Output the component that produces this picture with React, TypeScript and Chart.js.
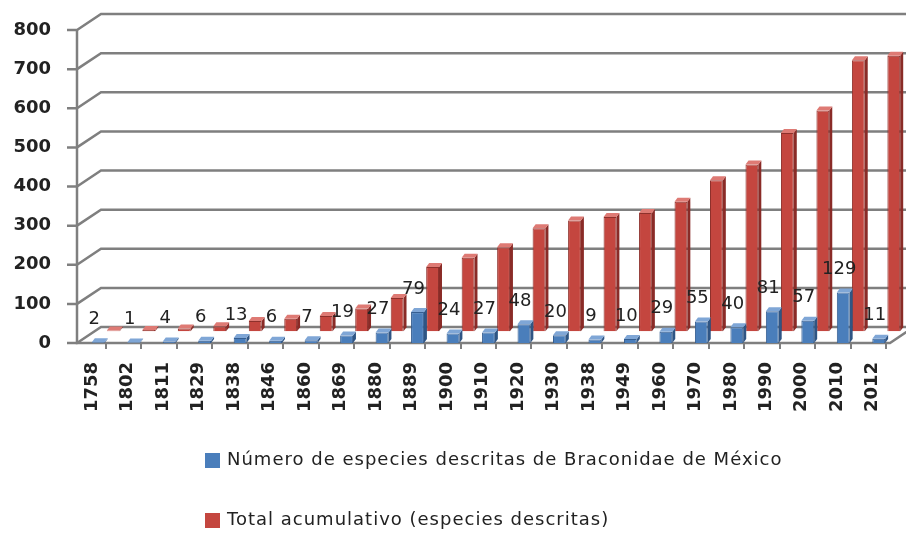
import React, { useEffect, useRef } from "react";
import { Chart, registerables } from "chart.js";

Chart.register(...registerables);

const years = ["1758", "1802", "1811", "1829", "1838", "1846", "1860", "1869", "1880", "1889", "1900", "1910", "1920", "1930", "1938", "1949", "1960", "1970", "1980", "1990", "2000", "2010", "2012"];
const described = [2, 1, 4, 6, 13, 6, 7, 19, 27, 79, 24, 27, 48, 20, 9, 10, 29, 55, 40, 81, 57, 129, 11];
const cumulative = [2, 3, 7, 13, 26, 32, 39, 58, 85, 164, 188, 215, 263, 283, 292, 302, 331, 386, 426, 507, 564, 693, 704];
const yTickValues = [0, 100, 200, 300, 400, 500, 600, 700, 800];
const seriesNames = [
  "Número de especies descritas de Braconidae de México",
  "Total acumulativo (especies descritas)",
];
const seriesColors = ["#4A7EBB", "#C4463F"];
const seriesBorders = ["#355E91", "#8E302B"];
const seriesTops = ["#7FA6D6", "#DE7A74"];
const seriesSides = ["#2F5584", "#8A2B27"];

const DEPTH_X = 24;
const DEPTH_Y = 16;
const FRONT_INSET = 11;
const CAP_X = 3;
const CAP_Y = 4;
const GRID_COLOR = "#7f7f7f";

const wallPlugin = {
  id: "wall3d",
  beforeDatasetsDraw(chart: any) {
    const { ctx, chartArea, scales } = chart;
    const y = scales.y;
    const frontX = chartArea.left - FRONT_INSET;
    ctx.save();
    ctx.strokeStyle = GRID_COLOR;
    ctx.lineWidth = 2.5;
    yTickValues.forEach((v) => {
      const yf = y.getPixelForValue(v);
      ctx.beginPath();
      ctx.moveTo(frontX - 10, yf);
      ctx.lineTo(frontX, yf);
      ctx.lineTo(frontX + DEPTH_X, yf - DEPTH_Y);
      ctx.lineTo(chart.width, yf - DEPTH_Y);
      ctx.stroke();
    });
    const y0 = y.getPixelForValue(0);
    const yTop = y.getPixelForValue(yTickValues[yTickValues.length - 1]);
    ctx.beginPath();
    ctx.moveTo(frontX, yTop);
    ctx.lineTo(frontX, y0);
    ctx.lineTo(chartArea.right - 14, y0);
    ctx.lineTo(chartArea.right - 14 + DEPTH_X, y0 - DEPTH_Y);
    ctx.stroke();
    ctx.restore();
  },
  afterDatasetsDraw(chart: any) {
    const { ctx, scales } = chart;
    const y = scales.y;
    ctx.save();
    [1, 0].forEach((di) => {
      const meta = chart.getDatasetMeta(di);
      meta.data.forEach((bar: any) => {
        const w = bar.width;
        const l = bar.x - w / 2;
        const r = bar.x + w / 2;
        const t = bar.y;
        const b = bar.base;
        ctx.fillStyle = seriesSides[di];
        ctx.beginPath();
        ctx.moveTo(r, t);
        ctx.lineTo(r + CAP_X, t - CAP_Y);
        ctx.lineTo(r + CAP_X, b - CAP_Y);
        ctx.lineTo(r, b);
        ctx.closePath();
        ctx.fill();
        ctx.fillStyle = seriesTops[di];
        ctx.beginPath();
        ctx.moveTo(l, t);
        ctx.lineTo(l + CAP_X, t - CAP_Y);
        ctx.lineTo(r + CAP_X, t - CAP_Y);
        ctx.lineTo(r, t);
        ctx.closePath();
        ctx.fill();
      });
    });
    ctx.font = "18px 'DejaVu Sans'";
    ctx.fillStyle = "#222";
    ctx.textAlign = "center";
    ctx.textBaseline = "middle";
    chart.getDatasetMeta(0).data.forEach((bar: any, i: number) => {
      const v = described[i];
      ctx.fillText(String(v), bar.x - 4, y.getPixelForValue(v) - 23);
    });
    ctx.restore();
  },
  afterDraw(chart: any) {
    const { ctx } = chart;
    ctx.save();
    ctx.font = "18px 'DejaVu Sans'";
    (ctx as any).letterSpacing = "1px";
    ctx.textAlign = "left";
    ctx.textBaseline = "middle";
    const rows = [460, 520];
    seriesNames.forEach((name, i) => {
      ctx.fillStyle = seriesColors[i];
      ctx.fillRect(205, rows[i] - 7, 15, 15);
      ctx.fillStyle = "#222";
      ctx.fillText(name, 227, rows[i]);
    });
    ctx.restore();
  },
};

export default function App() {
  const ref = useRef<HTMLCanvasElement>(null);
  useEffect(() => {
    document.body.style.margin = "0";
    const chart = new Chart(ref.current!, {
      type: "bar",
      data: {
        labels: years,
        datasets: [
          {
            label: seriesNames[0],
            data: described,
            backgroundColor: seriesColors[0],
            borderColor: seriesBorders[0],
            borderWidth: 1,
            yAxisID: "y",
            categoryPercentage: 0.85,
            barPercentage: 0.85,
          },
          {
            label: seriesNames[1],
            data: cumulative,
            backgroundColor: seriesColors[1],
            borderColor: seriesBorders[1],
            borderWidth: 1,
            yAxisID: "y2",
            categoryPercentage: 0.85,
            barPercentage: 0.85,
          },
        ],
      },
      options: {
        responsive: false,
        animation: false,
        layout: { padding: { top: 30, right: 2, bottom: 120, left: 0 } },
        plugins: { legend: { display: false }, tooltip: { enabled: false } },
        scales: {
          x: {
            offset: true,
            grid: { display: true, drawOnChartArea: false, drawTicks: true, tickLength: 6, offset: false, color: GRID_COLOR, lineWidth: 2 },
            border: { display: false },
            ticks: {
              minRotation: 90,
              maxRotation: 90,
              autoSkip: false,
              labelOffset: -13.5,
              padding: 13,
              color: "#222",
              font: { family: "'DejaVu Sans'", size: 18, weight: "bold" },
            },
            afterFit: (s: any) => {
              s.height = 70;
              s.paddingLeft = 0;
              s.paddingRight = 0;
            },
          },
          y: {
            min: 0,
            max: 800,
            grid: { display: false, drawTicks: false },
            border: { display: false },
            ticks: {
              stepSize: 100,
              padding: 37,
              color: "#222",
              font: { family: "'DejaVu Sans'", size: 18, weight: "bold" },
            },
            afterFit: (s: any) => {
              s.width = 88;
              s.paddingTop = 0;
              s.paddingBottom = 0;
            },
          },
          y2: {
            display: false,
            min: -30,
            max: 770,
          },
        },
      },
      plugins: [wallPlugin],
    });
    return () => chart.destroy();
  }, []);
  return <canvas ref={ref} width={906} height={533} style={{ display: "block" }} />;
}
